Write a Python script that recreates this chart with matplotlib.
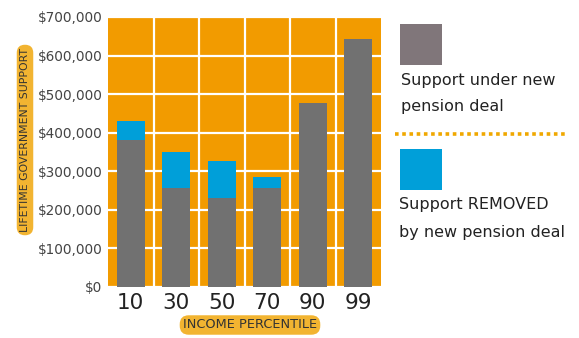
import matplotlib
matplotlib.use("Agg")
import matplotlib.pyplot as plt
from matplotlib.patches import Rectangle
from matplotlib.lines import Line2D
import numpy as np

# ---- data ----
percentiles = ["10", "30", "50", "70", "90", "99"]
support_new = [381000, 256000, 232000, 256000, 476000, 643000]
support_removed = [50000, 95000, 95000, 29000, 0, 0]
y_ticks = [0, 100000, 200000, 300000, 400000, 500000, 600000, 700000]

ORANGE = "#f29b00"
GRAY = "#717171"
BLUE = "#009fd9"
LEG_GRAY = "#80767a"
PILL = "#f2b431"

plt.rcParams['font.family'] = ['DejaVu Sans']

fig = plt.figure(figsize=(5.79, 3.38), dpi=100)
ax = fig.add_axes([108/579, 51/338, 273/579, 270/338])
ax.set_facecolor(ORANGE)

x = np.arange(len(percentiles))
ax.bar(x, support_new, width=0.62, color=GRAY, zorder=3)
ax.bar(x, support_removed, bottom=support_new, width=0.62, color=BLUE, zorder=3)

ax.set_xlim(-0.5, len(percentiles) - 0.5)
ax.set_ylim(0, 700000)
ax.set_yticks(y_ticks)
ax.set_yticklabels(["${:,}".format(v) for v in y_ticks])
ax.set_xticks(x)
ax.set_xticklabels(percentiles)
ax.set_xticks(np.arange(len(percentiles) - 1) + 0.5, minor=True)

ax.grid(axis='y', which='major', color='white', linewidth=1.6, zorder=1)
ax.grid(axis='x', which='minor', color='white', linewidth=1.6, zorder=1)
ax.set_axisbelow(True)

for s in ax.spines.values():
    s.set_visible(False)
ax.tick_params(axis='both', which='both', length=0)
ax.tick_params(axis='y', labelsize=9.8, labelcolor='#444444', pad=4)
ax.tick_params(axis='x', labelsize=15.5, labelcolor='#222222', pad=4)

# axis labels as pills
fig.text(25/579, 1 - 140/338, "LIFETIME GOVERNMENT SUPPORT", rotation=90,
         ha='center', va='center', fontsize=7.8, color='#333333',
         bbox=dict(boxstyle="round,pad=0.3,rounding_size=0.75", fc=PILL, ec='none'))
fig.text(250/579, 1 - 325/338, "INCOME PERCENTILE",
         ha='center', va='center', fontsize=9.3, color='#333333',
         bbox=dict(boxstyle="round,pad=0.25,rounding_size=0.7", fc=PILL, ec='none'))

# legend
fig.patches.append(Rectangle((400/579, 1 - 65/338), 42/579, 41/338,
                             transform=fig.transFigure, fc=LEG_GRAY, ec='none'))
fig.patches.append(Rectangle((400/579, 1 - 190/338), 42/579, 41/338,
                             transform=fig.transFigure, fc=BLUE, ec='none'))
fig.text(401/579, 1 - 80/338, "Support under new", fontsize=11.5, color='#222222',
         ha='left', va='center')
fig.text(401/579, 1 - 107/338, "pension deal", fontsize=11.5, color='#222222',
         ha='left', va='center')
fig.text(399/579, 1 - 205/338, "Support REMOVED", fontsize=11.5, color='#222222',
         ha='left', va='center')
fig.text(399/579, 1 - 233/338, "by new pension deal", fontsize=11.5, color='#222222',
         ha='left', va='center')
fig.lines.append(Line2D([395/579, 567/579], [1 - 134/338, 1 - 134/338],
                        transform=fig.transFigure, color='#f0a800', linewidth=2.6,
                        linestyle=(0, (1, 1))))

fig.savefig("out.png", dpi=100)
